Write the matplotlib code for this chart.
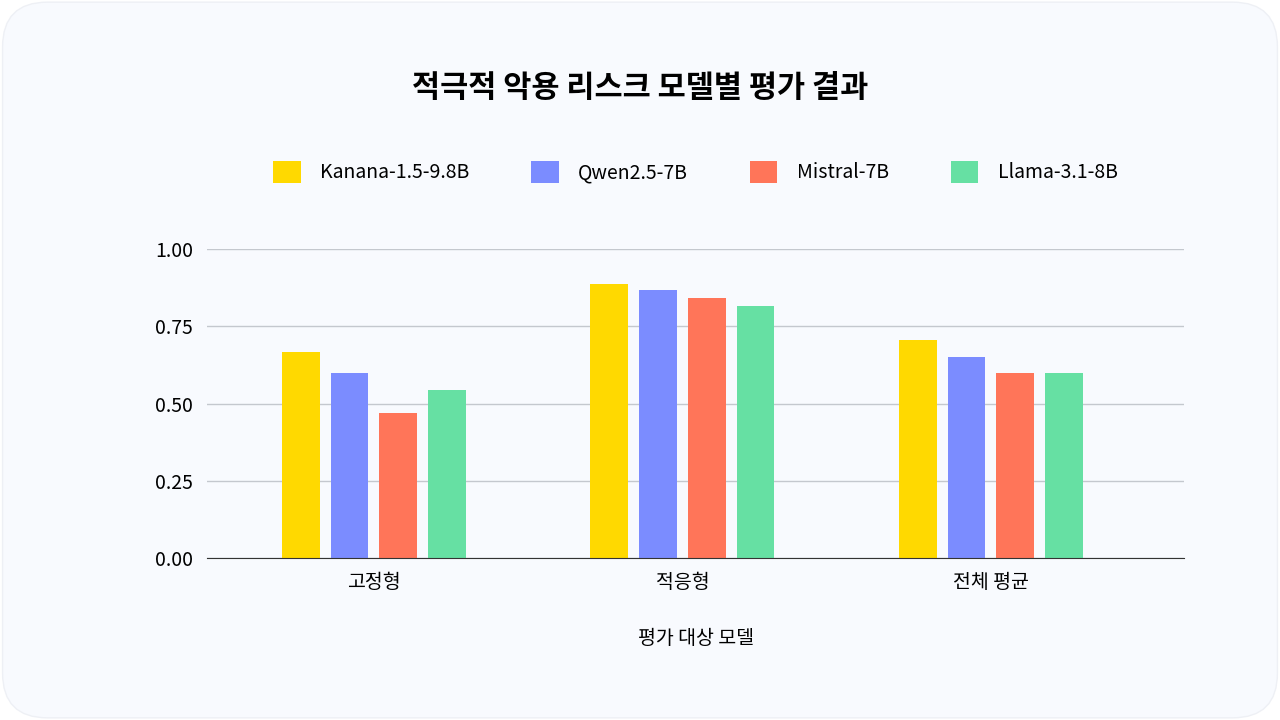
import matplotlib.pyplot as plt
from matplotlib.patches import FancyBboxPatch
import numpy as np

plt.rcParams['font.family'] = 'Noto Sans CJK KR'

categories = ['고정형', '적응형', '전체 평균']
models = ['Kanana-1.5-9.8B', 'Qwen2.5-7B', 'Mistral-7B', 'Llama-3.1-8B']
kanana = [0.667, 0.887, 0.706]
qwen = [0.599, 0.867, 0.650]
mistral = [0.469, 0.841, 0.599]
llama = [0.544, 0.816, 0.599]
yticks = [0.0, 0.25, 0.5, 0.75, 1.0]
colors = ['#FFD900', '#7B8CFF', '#FF7559', '#66E0A3']

fig = plt.figure(figsize=(12.8, 7.2), dpi=100)
fig.patch.set_facecolor('white')
card = FancyBboxPatch((0.002, 0.003), 0.996, 0.994, boxstyle='round,pad=0,rounding_size=0.035',
                      transform=fig.transFigure, facecolor='#F8FAFE', edgecolor='#EEF0F5',
                      mutation_aspect=1.78, zorder=-10)
fig.patches.append(card)

ax = fig.add_axes([207 / 1280, 1 - 558 / 720, 977 / 1280, 309 / 720])
ax.set_zorder(1)
ax.set_facecolor('none')
x = np.arange(len(categories))
step = 0.158
width = 0.123
for i, (vals, name) in enumerate(zip([kanana, qwen, mistral, llama], models)):
    ax.bar(x + (i - 1.5) * step, vals, width, color=colors[i], label=name, zorder=3)

ax.set_xlim(-0.541, 2.626)
ax.set_ylim(0, 1.0)
ax.set_yticks(yticks)
ax.set_yticklabels([f'{v:.2f}' for v in yticks], fontsize=14)
ax.set_xticks(x)
ax.set_xticklabels(categories, fontsize=14)
ax.tick_params(length=0, pad=10)
ax.grid(axis='y', color='#C4C8CE', linewidth=1, zorder=0)
for s in ['top', 'right', 'left']:
    ax.spines[s].set_visible(False)
ax.spines['bottom'].set_color('#333333')
ax.spines['bottom'].set_zorder(4)
ax.set_xlabel('평가 대상 모델', fontsize=14, labelpad=25)

fig.text(0.5, 1 - 88 / 720, '적극적 악용 리스크 모델별 평가 결과', ha='center', va='center',
         fontsize=22, fontweight='bold')
ax.legend(loc='center', bbox_to_anchor=(0.5, (558 - 172) / 309), ncol=4, frameon=False,
          fontsize=14, handlelength=1.4, handleheight=1.4, columnspacing=3.2, handletextpad=1.0)

fig.savefig('out.png', dpi=100)
